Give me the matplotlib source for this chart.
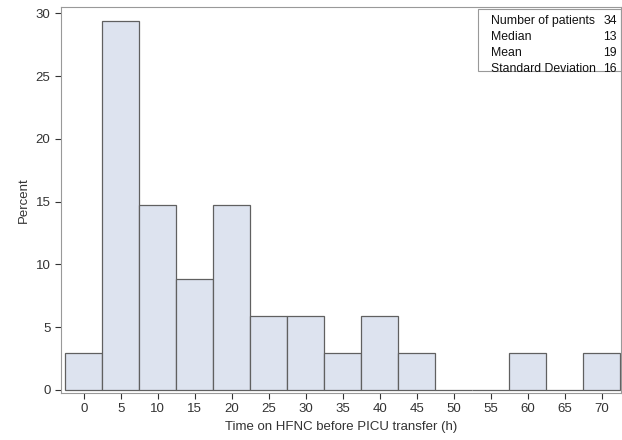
import matplotlib
matplotlib.use('Agg')
import matplotlib.pyplot as plt

plt.rcParams['font.family'] = ['Liberation Sans', 'DejaVu Sans']

# 直方图数据（百分比）
bin_mids = [0, 5, 10, 15, 20, 25, 30, 35, 40, 45, 50, 55, 60, 65, 70]
percent = [2.94, 29.41, 14.71, 8.82, 14.71, 5.88, 5.88, 2.94, 5.88, 2.94, 0, 0, 2.94, 0, 2.94]
stat_names = ['Number of patients', 'Median', 'Mean', 'Standard Deviation']
stat_values = ['34', '13', '19', '16']

fig = plt.figure(figsize=(6.22, 4.4), dpi=100)
ax = fig.add_axes([0.098, 0.107, 0.9, 0.877])

ax.bar(bin_mids, percent, width=5, color='#dde3ef', edgecolor='#606060', linewidth=0.9)

ax.set_xlim(-3.1, 72.6)
ax.set_ylim(-0.25, 30.5)
ax.set_xticks(bin_mids)
ax.set_yticks([0, 5, 10, 15, 20, 25, 30])
ax.tick_params(labelsize=9.5, colors='#333333', length=4, width=0.8)
for sp in ax.spines.values():
    sp.set_color('#999999')
    sp.set_linewidth(0.8)

ax.set_xlabel('Time on HFNC before PICU transfer (h)', fontsize=9.5, color='#333333')
ax.set_ylabel('Percent', fontsize=9.5, color='#333333')

# 统计信息框
for i, (n, v) in enumerate(zip(stat_names, stat_values)):
    y = 0.965 - i * 0.042
    ax.text(0.768, y, n, transform=ax.transAxes, ha='left', va='center',
            fontsize=8.8, color='#111111')
    ax.text(0.993, y, v, transform=ax.transAxes, ha='right', va='center',
            fontsize=8.8, color='#111111')
box = plt.Rectangle((0.745, 0.835), 0.255, 0.16, transform=ax.transAxes,
                    fill=False, edgecolor='#999999', linewidth=0.8)
ax.add_patch(box)

plt.savefig('out.png', dpi=100)
